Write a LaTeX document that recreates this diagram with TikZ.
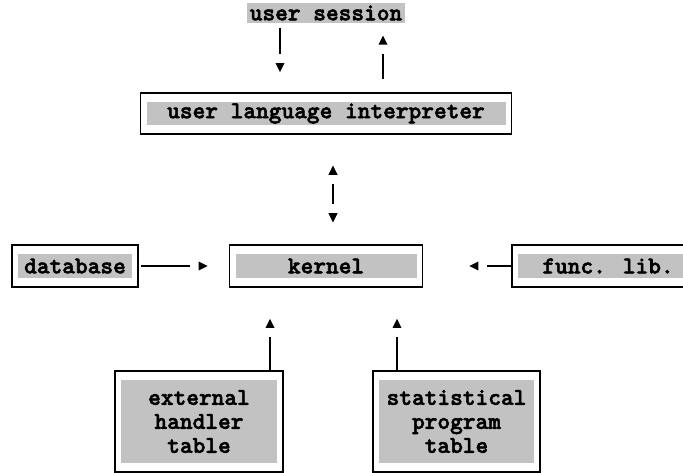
\documentclass[tikz,border=0pt]{standalone}
\usepackage{fontspec}
\newfontfamily\boxfont[FakeBold=2.2]{lmmonolt10-bold.otf}
\usetikzlibrary{decorations.markings}
\definecolor{dotgray}{gray}{0.76}
\begin{document}
\begin{tikzpicture}[x=1pt,y=-1pt,
    every node/.style={font=\boxfont\fontsize{24.2}{24}\selectfont},
    box/.style={draw, line width=1.6pt, inner sep=0pt, align=center,
      path picture={\fill[dotgray] ([shift={(6pt,-9pt)}]path picture bounding box.north west)
        rectangle ([shift={(-6pt,9pt)}]path picture bounding box.south east);}},
    % line stops short of the head, head sits #1 before the target
    flow/.style={line width=1.3pt, shorten >=#1+18pt, postaction={decorate},
      decoration={markings, mark=at position -#1 with
        {\fill[shorten >=0pt] (0,0) -- (-9pt,4.5pt) -- (-9pt,-4.5pt) -- cycle;}}},
    backflow/.style={shorten <=#1+18pt, postaction={decorate},
      decoration={markings, mark=at position #1 with
        {\fill[shorten <=0pt] (0,0) -- (9pt,4.5pt) -- (9pt,-4.5pt) -- cycle;}}}]
    \useasboundingbox (0,0) rectangle (683,473);
    \clip (0,0) rectangle (683,473);

    \node[fill=dotgray, inner xsep=3pt, inner ysep=3pt] (session) at (326,13) {user session};
    \node[box, minimum width=371pt, minimum height=41pt] (uli) at (326,113.5) {user language interpreter};
    \node[box, minimum width=193pt, minimum height=42pt] (kernel) at (326,266) {kernel};
    \node[box, minimum width=126pt, minimum height=42pt] (database) at (75,266) {database};
    \node[box, minimum width=192pt, minimum height=42pt] (funclib) at (608,266) {func. lib.};
    \node[box, minimum width=168pt, minimum height=101pt] (exthandler) at (199,421.5) {external\\handler\\table};
    \node[box, minimum width=167pt, minimum height=101pt] (statprog) at (456.5,421.5) {statistical\\program\\table};

    \coordinate (extup) at ([xshift=71pt]exthandler.north);
    \coordinate (statup) at ([xshift=-59.5pt]statprog.north);

    \draw[flow=20pt, shorten <=4pt] ([xshift=-46pt]session.south) to ([xshift=-46pt]uli.north);
    \draw[flow=12pt, shorten <=13pt] ([xshift=57pt]uli.north) to ([xshift=57pt]session.south);
    \draw[line width=1.3pt, backflow=31pt, flow=22pt] ([xshift=7pt]uli.south) to ([xshift=7pt]kernel.north);
    \draw[flow=21pt, shorten <=2pt] (database) to (kernel);
    \draw[flow=46pt] (funclib) to (kernel);
    \draw[flow=31pt] (extup) to (extup |- kernel.south);
    \draw[flow=31pt] (statup) to (statup |- kernel.south);
\end{tikzpicture}
\end{document}
